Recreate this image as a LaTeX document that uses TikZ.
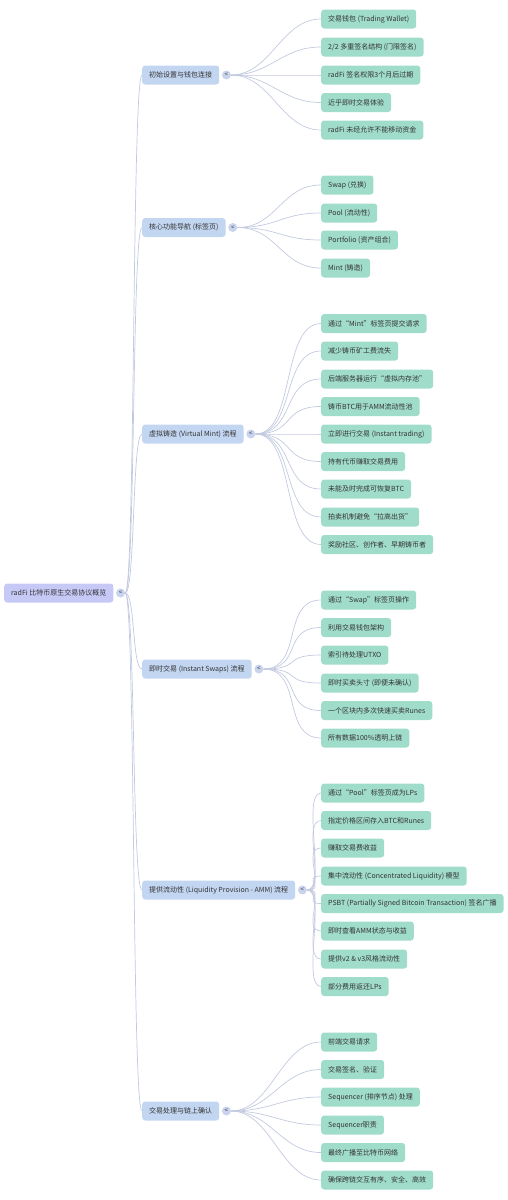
\documentclass[tikz,border=0pt]{standalone}
\usepackage{fontspec}
\setmainfont{Noto Sans CJK SC}
\definecolor{rootc}{HTML}{C6C9F6}
\definecolor{branchc}{HTML}{C3D6F1}
\definecolor{leafc}{HTML}{A0DCCA}
\definecolor{edgec}{HTML}{C3CADF}
\definecolor{togc}{HTML}{C8D3EE}
\definecolor{txt}{HTML}{333333}
\tikzset{
  boxbase/.style={rectangle, rounded corners=3pt, minimum height=19pt, inner xsep=7pt, inner ysep=2pt, text=txt, font=\fontsize{7}{8}\selectfont, anchor=west},
  rootbox/.style={boxbase, fill=rootc},
  branchbox/.style={boxbase, fill=branchc},
  leafbox/.style={boxbase, fill=leafc},
  togbox/.style={circle, fill=togc, inner sep=0pt, minimum size=9pt, text=txt, font=\fontsize{6}{6}\selectfont},
  edgeline/.style={draw=edgec, line width=0.7pt},
}
\begin{document}
\begin{tikzpicture}[x=1pt,y=-1pt]
\useasboundingbox (0,0) rectangle (508,1200);
% root
\node[rootbox] (r) at (4,593) {radFi 比特币原生交易协议概览};
\node[togbox] (rt) at ([xshift=7pt]r.east) {<};
% branches
\node[branchbox] (b1) at (142,75) {初始设置与钱包连接};
\node[branchbox] (b2) at (142,227.5) {核心功能导航 (标签页)};
\node[branchbox] (b3) at (142,434) {虚拟铸造 (Virtual Mint) 流程};
\node[branchbox] (b4) at (142,669) {即时交易 (Instant Swaps) 流程};
\node[branchbox] (b5) at (142,890) {提供流动性 (Liquidity Provision - AMM) 流程};
\node[branchbox] (b6) at (142,1111) {交易处理与链上确认};
\foreach \b in {1,...,6}{
  \node[togbox] (t\b) at ([xshift=7pt]b\b.east) {<};
  \draw[edgeline] (rt.east) .. controls +(10,0) and +(-10,0) .. (b\b.west);
}
% group 1
\foreach \yy/\t [count=\i] in {19/{交易钱包 (Trading Wallet)}, 47/{2/2 多重签名结构 (门限签名)}, 75/{radFi 签名权限3个月后过期}, 102.5/{近乎即时交易体验}, 130/{radFi 未经允许不能移动资金}}{
  \node[leafbox] (l1\i) at (321,\yy) {\t};
  \draw[edgeline] (t1.east) .. controls +(40,0) and +(-40,0) .. (l1\i.west);
}
% group 2
\foreach \yy/\t [count=\i] in {185/{Swap (兑换)}, 213/{Pool (流动性)}, 240/{Portfolio (资产组合)}, 268/{Mint (铸造)}}{
  \node[leafbox] (l2\i) at (321,\yy) {\t};
  \draw[edgeline] (t2.east) .. controls +(40,0) and +(-40,0) .. (l2\i.west);
}
% group 3
\foreach \yy/\t [count=\i] in {323.5/{通过“Mint”标签页提交请求}, 351/{减少铸币矿工费流失}, 379/{后端服务器运行“虚拟内存池”}, 406.5/{铸币BTC用于AMM流动性池}, 434/{立即进行交易 (Instant trading)}, 461.5/{持有代币赚取交易费用}, 489/{未能及时完成可恢复BTC}, 517/{拍卖机制避免“拉高出货”}, 544.5/{奖励社区、创作者、早期铸币者}}{
  \node[leafbox] (l3\i) at (321,\yy) {\t};
  \draw[edgeline] (t3.east) .. controls +(40,0) and +(-40,0) .. (l3\i.west);
}
% group 4
\foreach \yy/\t [count=\i] in {600/{通过“Swap”标签页操作}, 627.5/{利用交易钱包架构}, 655/{索引待处理UTXO}, 683/{即时买卖头寸 (即便未确认)}, 710.5/{一个区块内多次快速买卖Runes}, 738/{所有数据100\%透明上链}}{
  \node[leafbox] (l4\i) at (321,\yy) {\t};
  \draw[edgeline] (t4.east) .. controls +(40,0) and +(-40,0) .. (l4\i.west);
}
% group 5
\foreach \yy/\t [count=\i] in {793/{通过“Pool”标签页成为LPs}, 820.5/{指定价格区间存入BTC和Runes}, 848/{赚取交易费收益}, 876/{集中流动性 (Concentrated Liquidity) 模型}, 903.5/{PSBT (Partially Signed Bitcoin Transaction) 签名广播}, 931/{即时查看AMM状态与收益}, 959/{提供v2 \& v3风格流动性}, 986.5/{部分费用返还LPs}}{
  \node[leafbox] (l5\i) at (321,\yy) {\t};
  \draw[edgeline] (t5.east) .. controls +(20,0) and +(-20,0) .. (l5\i.west);
}
% group 6
\foreach \yy/\t [count=\i] in {1042/{前端交易请求}, 1069.5/{交易签名、验证}, 1097/{Sequencer (排序节点) 处理}, 1125/{Sequencer职责}, 1152.5/{最终广播至比特币网络}, 1180/{确保跨链交互有序、安全、高效}}{
  \node[leafbox] (l6\i) at (321,\yy) {\t};
  \draw[edgeline] (t6.east) .. controls +(40,0) and +(-40,0) .. (l6\i.west);
}
\end{tikzpicture}
\end{document}
